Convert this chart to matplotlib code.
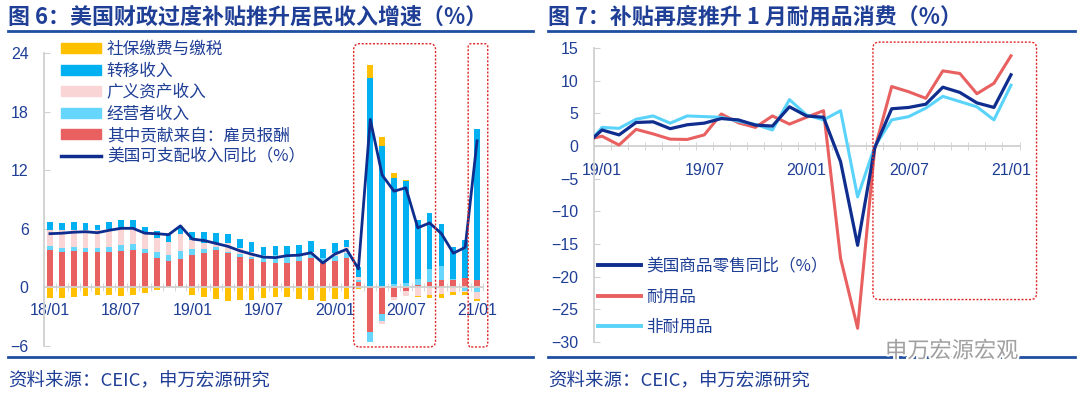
import matplotlib
matplotlib.use('Agg')
import matplotlib.pyplot as plt
import numpy as np
from matplotlib.patches import FancyBboxPatch, Patch
from matplotlib.lines import Line2D
from matplotlib.transforms import IdentityTransform
import matplotlib.patheffects as pe

plt.rcParams['font.family'] = ['Noto Sans CJK SC', 'DejaVu Sans']

# ---------------- data: left chart (18/01 - 21/01) ----------------
left_tick_labels = ['18/01', '18/07', '19/01', '19/07', '20/01', '20/07', '21/01']
employee_comp = [3.8, 3.6, 3.7, 3.6, 3.6, 3.6, 3.7, 3.8, 3.5, 3.0, 2.7, 2.95,
                 3.3, 3.55, 3.8, 3.5, 3.15, 2.9, 2.55, 2.45, 2.45, 2.75, 3.0, 2.45,
                 2.75, 3.0, 0.6, -4.55, -2.7, -1.0, -0.35, 0.2, 0.6, 0.8, 0.75, 1.0, 0.8]
proprietors = [0.4, 0.4, 0.4, 0.4, 0.4, 0.5, 0.6, 0.6, 0.4, 0.6, 0.6, 0.8,
               0.6, 0.35, 0.3, 0.15, 0.25, 0.25, 0.75, 0.85, 0.85, 0.65, 0.4, 0.6,
               0.5, 0.5, 0.2, -1.0, -0.7, 0.3, 0.4, 0.7, 1.25, 1.4, 0.1, -0.35, -0.45]
asset_income = [1.7, 1.9, 1.8, 1.9, 1.85, 1.9, 1.7, 1.6, 1.8, 1.5, 1.3, 1.7,
                1.0, 0.6, 0.4, 0.85, 0.6, 0.5, 0.0, 0.0, 0.0, 0.0, 0.25, 0.0,
                0.3, 0.6, 0.3, 0.0, -0.35, -0.3, -0.55, -0.85, -0.8, -0.7, -0.5, -0.1, -0.75]
transfers = [0.8, 0.7, 0.8, 0.7, 0.55, 0.7, 0.9, 0.9, 0.5, 0.7, 0.8, 0.65,
             0.8, 1.2, 1.1, 1.0, 1.0, 0.95, 0.8, 0.9, 0.95, 0.95, 1.1, 0.85,
             0.95, 0.8, 1.0, 21.4, 14.5, 10.9, 10.5, 5.95, 5.8, 4.3, 3.3, 3.85, 15.4]
taxes = [-1.1, -1.05, -0.95, -0.85, -0.8, -0.8, -0.85, -0.8, -0.55, -0.25, 0.0, 0.0,
         -0.8, -1.0, -1.2, -1.35, -1.3, -1.3, -1.05, -0.95, -0.95, -1.15, -1.25, -1.35,
         -1.15, -1.15, -0.2, 1.4, 0.9, 0.5, 0.1, -0.15, -0.3, -0.4, -0.3, -0.35, -0.2]
disp_income_yoy = [5.5, 5.55, 5.65, 5.7, 5.6, 5.85, 6.05, 6.05, 5.55, 5.5, 5.4, 6.3,
                   4.95, 4.8, 4.5, 4.2, 3.75, 3.4, 3.1, 3.05, 3.25, 3.3, 3.55, 2.5,
                   3.4, 3.9, 1.9, 17.2, 11.5, 9.85, 10.2, 6.1, 6.6, 5.5, 3.5, 4.1, 15.0]

left_series_names = ['社保缴费与缴税', '转移收入', '广义资产收入', '经营者收入', '其中贡献来自：雇员报酬']
left_line_name = '美国可支配收入同比（%）'

# ---------------- data: right chart (18/12 - 21/01) ----------------
right_tick_labels = ['19/01', '19/07', '20/01', '20/07', '21/01']
goods_retail = [0.1, 2.45, 1.7, 3.6, 3.7, 2.65, 3.25, 3.5, 4.2, 4.0, 3.2, 3.05, 6.0,
                4.6, 4.4, -2.4, -15.2, -0.3, 5.7, 5.9, 6.4, 9.0, 8.2, 6.6, 5.9, 10.9]
durables = [0.9, 1.5, 0.15, 2.55, 1.85, 1.05, 1.0, 1.7, 4.9, 3.55, 2.85, 4.6, 3.35,
            4.4, 5.4, -17.2, -27.9, -0.5, 9.1, 8.3, 7.3, 11.5, 11.1, 8.0, 9.6, 13.8]
nondurables = [-0.2, 2.85, 2.7, 4.1, 4.6, 3.5, 4.6, 4.5, 4.4, 3.8, 3.3, 2.45, 7.1,
               4.75, 4.0, 5.4, -7.8, -0.1, 4.0, 4.5, 5.8, 7.6, 6.8, 6.0, 4.0, 9.3]
right_names = ['美国商品零售同比（%）', '耐用品', '非耐用品']

# ---------------- style ----------------
W, H = 1080, 397
C_YELLOW = '#FFC000'
C_BLUE = '#00B0F0'
C_PINK = '#F9D5D5'
C_CYAN = '#66D6FC'
C_RED = '#E86060'
C_NAVY = '#0E2D8E'
C_LBLUE = '#5AD3FB'
C_TEXT = '#1F3E96'
C_AXIS = '#D0D0D0'
NUMFONT = ['Liberation Sans', 'DejaVu Sans']

fig = plt.figure(figsize=(W / 100, H / 100), dpi=100)
fig.patch.set_facecolor('white')


def fx(px):
    return px / W


def fy(py):
    return 1 - py / H


def style_axes(ax, xpad):
    for s in ['top', 'right']:
        ax.spines[s].set_visible(False)
    ax.spines['left'].set_color(C_AXIS)
    ax.spines['left'].set_linewidth(1.3)
    ax.spines['bottom'].set_color(C_AXIS)
    ax.spines['bottom'].set_linewidth(1.3)
    ax.spines['bottom'].set_position(('data', 0))
    ax.tick_params(axis='y', direction='in', length=4, color=C_AXIS, labelcolor=C_TEXT,
                   labelsize=11.5, pad=11)
    ax.tick_params(axis='x', which='major', length=0, labelcolor=C_TEXT, labelsize=11.5, pad=xpad)
    ax.tick_params(axis='x', which='minor', direction='inout', length=6, color=C_AXIS)
    for lab in ax.get_xticklabels() + ax.get_yticklabels():
        lab.set_family(NUMFONT)
    for lab in ax.get_xticklabels():
        lab.set_bbox(dict(facecolor='white', edgecolor='none', pad=0.5))
        lab.set_zorder(6)


# ================= LEFT CHART =================
axL = fig.add_axes([fx(44), fy(346), fx(483 - 44), (346 - 53) / H])
n = len(employee_comp)
xL = np.arange(n)
bar_w = 0.48
series = [(employee_comp, C_RED), (proprietors, C_CYAN), (asset_income, C_PINK),
          (transfers, C_BLUE), (taxes, C_YELLOW)]
pos_bottom = np.zeros(n)
neg_bottom = np.zeros(n)
for vals, col in series:
    v = np.array(vals, dtype=float)
    bottom = np.where(v >= 0, pos_bottom, neg_bottom)
    axL.bar(xL, v, bar_w, bottom=bottom, color=col, linewidth=0, zorder=2)
    pos_bottom = pos_bottom + np.where(v > 0, v, 0)
    neg_bottom = neg_bottom + np.where(v < 0, v, 0)
axL.plot(xL, disp_income_yoy, color=C_NAVY, lw=2.0, zorder=4)
axL.set_xlim(-0.5, n - 0.5)
axL.set_ylim(-6, 24)
axL.set_yticks([-6, 0, 6, 12, 18, 24])
axL.set_xticks(np.arange(0, n, 6))
axL.set_xticklabels(left_tick_labels)
axL.set_xticks(np.arange(-0.5, n, 1), minor=True)
style_axes(axL, 11)

handlesL = [Patch(color=C_YELLOW), Patch(color=C_BLUE), Patch(color=C_PINK),
            Patch(color=C_CYAN), Patch(color=C_RED), Line2D([], [], color=C_NAVY, lw=2.5)]
legL = axL.legend(handlesL, left_series_names + [left_line_name], loc='upper left',
                  bbox_to_anchor=(fx(61), fy(41)), bbox_transform=fig.transFigure,
                  frameon=False, fontsize=12, handlelength=2.4, handleheight=0.55,
                  handletextpad=0.35, labelspacing=0.27, borderpad=0, borderaxespad=0)
for t in legL.get_texts():
    t.set_color(C_TEXT)

# ================= RIGHT CHART =================
axR = fig.add_axes([fx(593.5), fy(342), fx(1019.5 - 593.5), (342 - 48) / H])
m = len(goods_retail)
xR = np.arange(m)
axR.plot(xR, durables, color=C_RED, lw=2.2, zorder=3)
axR.plot(xR, nondurables, color=C_LBLUE, lw=2.2, zorder=3)
axR.plot(xR, goods_retail, color=C_NAVY, lw=2.3, zorder=4)
axR.set_xlim(0.5, m - 0.5)
axR.set_ylim(-30, 15)
axR.set_yticks(np.arange(-30, 16, 5))
axR.set_xticks(np.arange(1, m, 6))
axR.set_xticklabels(right_tick_labels)
axR.set_xticks(np.arange(0.5, m, 1), minor=True)
style_axes(axR, 12)

handlesR = [Line2D([], [], color=C_NAVY, lw=2.8), Line2D([], [], color=C_RED, lw=2.8),
            Line2D([], [], color=C_LBLUE, lw=2.8)]
legR = axR.legend(handlesR, right_names, loc='upper left',
                  bbox_to_anchor=(fx(598), fy(258)), bbox_transform=fig.transFigure,
                  frameon=False, fontsize=12, handlelength=2.6, handletextpad=0.3,
                  labelspacing=0.8, borderpad=0, borderaxespad=0)
for t in legR.get_texts():
    t.set_color(C_TEXT)

# ================= highlight boxes (data-space extents) =================
def add_box(ax, x0, x1, y0, y1, r=6):
    (px0, py0) = ax.transData.transform((x0, y0))
    (px1, py1) = ax.transData.transform((x1, y1))
    p = FancyBboxPatch((px0, py0), px1 - px0, py1 - py0,
                       boxstyle=f'round,pad=0,rounding_size={r}',
                       transform=IdentityTransform(), fill=False,
                       ec='#E02828', lw=1.0, ls=(0, (1.5, 1.2)), zorder=10)
    fig.add_artist(p)

add_box(axL, 25.6, 32.5, -6.1, 24.95)
add_box(axL, 35.25, 36.9, -6.1, 24.95, r=3)
add_box(axR, 16.9, 26.5, -23.5, 15.9)

# ================= titles, rules, sources =================
fig.text(fx(8), fy(17), '图 6：美国财政过度补贴推升居民收入增速（%）', fontsize=15.8,
         fontweight='bold', color=C_TEXT, va='center', ha='left')
fig.text(fx(548), fy(17), '图 7：补贴再度推升 1 月耐用品消费（%）', fontsize=15.8,
         fontweight='bold', color=C_TEXT, va='center', ha='left')
for (a, b) in [(8, 533), (548, 1075)]:
    fig.add_artist(Line2D([fx(a), fx(b)], [fy(31), fy(31)], color='#1F4FA0', lw=2.0))
    fig.add_artist(Line2D([fx(a), fx(b)], [fy(357), fy(357)], color='#1F4FA0', lw=2.0))
fig.text(fx(8), fy(381), '资料来源：CEIC，申万宏源研究', fontsize=13.3, color=C_TEXT,
         va='center', ha='left')
fig.text(fx(548), fy(381), '资料来源：CEIC，申万宏源研究', fontsize=13.3, color=C_TEXT,
         va='center', ha='left')
wm = fig.text(fx(885), fy(351), '申万宏源宏观', fontsize=16, color='#A0A0A0',
              va='center', ha='left', zorder=20)
wm.set_path_effects([pe.withStroke(linewidth=3, foreground='white')])

fig.savefig('out.png', dpi=100, facecolor='white')
